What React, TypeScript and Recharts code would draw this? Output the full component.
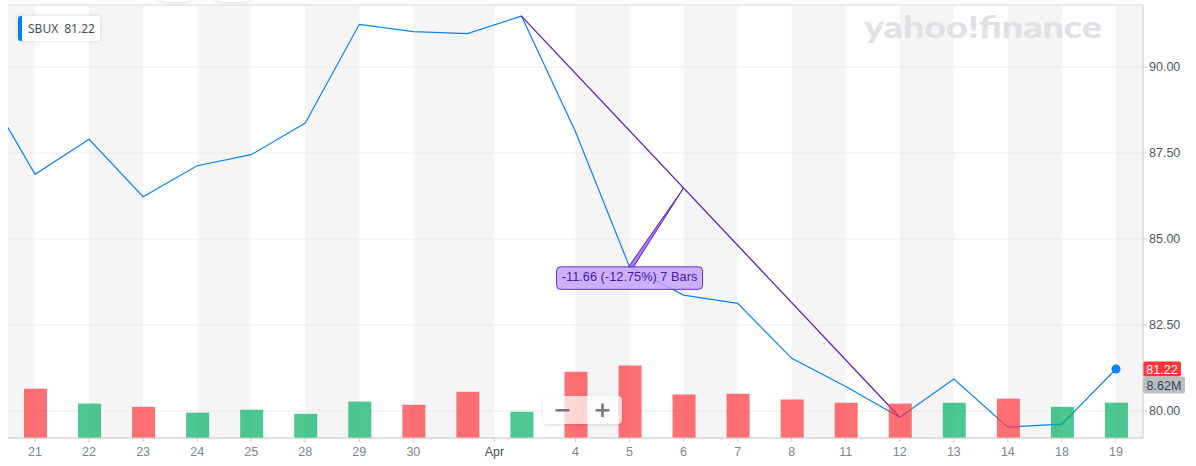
import React from 'react';
import {
  ComposedChart,
  Line,
  Bar,
  Cell,
  XAxis,
  YAxis,
  CartesianGrid,
  ReferenceArea,
  ReferenceLine,
  ReferenceDot,
} from 'recharts';

// ---- data ----
const barIndex = [-1, 0, 1, 2, 3, 4, 5, 6, 7, 8, 9, 10, 11, 12, 13, 14, 15, 16, 17, 18, 19, 20];
const dayLabels = ['Mar 18', 'Mar 21', 'Mar 22', 'Mar 23', 'Mar 24', 'Mar 25', 'Mar 28', 'Mar 29', 'Mar 30', 'Mar 31', 'Apr 1', 'Apr 4', 'Apr 5', 'Apr 6', 'Apr 7', 'Apr 8', 'Apr 11', 'Apr 12', 'Apr 13', 'Apr 14', 'Apr 18', 'Apr 19'];
const closePrices = [89.59, 86.88, 87.9, 86.23, 87.13, 87.45, 88.37, 91.24, 91.03, 90.97, 91.48, 88.12, 84.19, 83.37, 83.13, 81.53, 80.71, 79.82, 80.93, 79.53, 79.62, 81.22];
const volumesM = [null, 12.0, 8.4, 7.6, 6.2, 6.9, 5.9, 8.9, 8.1, 11.3, 6.4, 16.2, 17.7, 10.6, 10.8, 9.4, 8.6, 8.4, 8.6, 9.6, 7.6, 8.62];

const xTickValues = [0, 1, 2, 3, 4, 5, 6, 7, 8.5, 10, 11, 12, 13, 14, 15, 16, 17, 18, 19, 20];
const xTickLabels = ['21', '22', '23', '24', '25', '28', '29', '30', 'Apr', '4', '5', '6', '7', '8', '11', '12', '13', '14', '18', '19'];
const priceTicks = [80, 82.5, 85, 87.5, 90];
const xDomain = [-0.5, 20.5];
const priceDomain = [79.215, 91.802];
const volumeDomain = [0, 105.7];

const symbol = 'SBUX';
const lastPriceLabel = '81.22';
const lastVolumeLabel = '8.62M';
const measureFrom = 9;
const measureTo = 16;
const measureAnchor = 11;
const measureTip = 12;
const measureLabel = '-11.66 (-12.75%) 7 Bars';

// ---- derived ----
const data = barIndex.map((i, k) => ({
  i,
  day: dayLabels[k],
  close: closePrices[k],
  vol: volumesM[k],
  up: k > 0 ? closePrices[k] >= closePrices[k - 1] : true,
}));
const priceAt = (i: number) => data.find((d) => d.i === i)!.close;
const stripeBounds = [xDomain[0], ...xTickValues, xDomain[1]];
const stripes: [number, number][] = [];
for (let k = 0; k + 1 < stripeBounds.length; k += 2) stripes.push([stripeBounds[k], stripeBounds[k + 1]]);
const mStartP = priceAt(measureFrom);
const mEndP = priceAt(measureTo);
const tipPrice = mStartP + ((mEndP - mStartP) * (measureTip - measureFrom)) / (measureTo - measureFrom);
const lastIdx = barIndex[barIndex.length - 1];
const lastClose = priceAt(lastIdx);

const AXIS_FONT = "'Liberation Sans', Arial, Helvetica, sans-serif";
const BLUE = '#0a84f4';
const PURPLE = '#5b1fb8';

const XTick = (props: any) => {
  const { x, y, payload } = props;
  const idx = xTickValues.indexOf(payload.value);
  const label = xTickLabels[idx] ?? '';
  const isMonth = /[A-Za-z]/.test(label);
  return (
    <text x={x} y={y + 12} textAnchor="middle" fontSize={12.5} fontFamily={AXIS_FONT} fill={isMonth ? '#4a5058' : '#7d858e'}>
      {label}
    </text>
  );
};

const YTick = (props: any) => {
  const { x, y, payload } = props;
  return (
    <text x={x} y={y + 4.5} textAnchor="start" fontSize={12.5} fontFamily={AXIS_FONT} fill="#4f565e">
      {Number(payload.value).toFixed(2)}
    </text>
  );
};

const PriceTag = (props: any) => {
  const { cx, cy } = props;
  const left = cx + 27;
  return (
    <g>
      <rect x={left} y={cy - 7.5} width={38} height={15} rx={2} fill="#ff333a" />
      <text x={left + 19} y={cy + 4.5} textAnchor="middle" fontSize={12.5} fontFamily={AXIS_FONT} fill="#ffffff">
        {lastPriceLabel}
      </text>
      <rect x={left} y={cy + 7.5} width={42} height={17} rx={2} fill="#b9bdc4" />
      <text x={left + 21} y={cy + 20.5} textAnchor="middle" fontSize={12.5} fontFamily={AXIS_FONT} fill="#3c424a">
        {lastVolumeLabel}
      </text>
    </g>
  );
};

const MeasureBox = (props: any) => {
  const { cx, cy } = props;
  return (
    <g>
      <rect x={cx - 73} y={cy} width={146} height={22.5} rx={4} fill="#c4a2fb" fillOpacity={0.85} stroke="#6a2ed0" strokeWidth={1} />
      <text x={cx} y={cy + 14.5} textAnchor="middle" fontSize={12.8} fontFamily={AXIS_FONT} fill="#4b1a9e">
        {measureLabel}
      </text>
    </g>
  );
};

const Wedge = (props: any) => {
  const { x1, y1, x2, y2 } = props;
  if ([x1, y1, x2, y2].some((v) => typeof v !== 'number' || isNaN(v))) return <g />;
  return (
    <polygon
      points={`${x1 - 1},${y1} ${x1 + 4},${y1} ${x2},${y2}`}
      fill="#a97cf2"
      stroke={PURPLE}
      strokeWidth={1}
      strokeLinejoin="round"
    />
  );
};

const renderDot = (p: any) => {
  if (p.payload && p.payload.i === lastIdx) {
    return <circle key={`dot-${p.index}`} cx={p.cx} cy={p.cy} r={4.5} fill={BLUE} />;
  }
  return <g key={`dot-${p.index}`} />;
};

export default function App() {
  return (
    <div style={{ position: 'absolute', left: 0, top: 0, width: 1196, height: 466, background: '#fff', overflow: 'hidden' }}>
      <ComposedChart width={1196} height={466} data={data} margin={{ top: 5, right: 0, bottom: 0, left: 8 }}>
        {stripes.map(([a, b], k) => (
          <ReferenceArea key={`s${k}`} yAxisId="p" x1={a} x2={b} fill="#f5f5f5" fillOpacity={1} stroke="none" zIndex={-200} />
        ))}
        <CartesianGrid yAxisId="p" vertical={false} stroke="#ebebeb" zIndex={-100} />
        <ReferenceLine yAxisId="p" y={priceDomain[1]} stroke="#e0e0e0" strokeWidth={1} />
        <XAxis
          dataKey="i"
          type="number"
          domain={xDomain}
          allowDataOverflow
          ticks={xTickValues}
          interval={0}
          height={28}
          tickSize={4}
          tickMargin={2}
          axisLine={{ stroke: '#cccccc' }}
          tickLine={{ stroke: '#cccccc' }}
          tick={<XTick />}
        />
        <YAxis
          yAxisId="p"
          orientation="right"
          domain={priceDomain}
          allowDataOverflow
          ticks={priceTicks}
          width={53}
          tickSize={4}
          tickMargin={2}
          axisLine={{ stroke: '#cccccc' }}
          tickLine={{ stroke: '#cccccc' }}
          tick={<YTick />}
        />
        <YAxis yAxisId="vol" hide domain={volumeDomain} allowDataOverflow />
        <Line
          yAxisId="p"
          dataKey="close"
          type="linear"
          stroke={BLUE}
          strokeWidth={1.2}
          dot={renderDot}
          activeDot={false}
          isAnimationActive={false}
          zIndex={100}
        />
        <ReferenceLine
          yAxisId="p"
          segment={[{ x: measureFrom, y: mStartP }, { x: measureTo, y: mEndP }]}
          stroke={PURPLE}
          strokeWidth={1.3}
          zIndex={150}
        />
        <ReferenceLine
          yAxisId="p"
          segment={[{ x: measureAnchor, y: priceAt(measureAnchor) }, { x: measureTip, y: tipPrice }]}
          shape={Wedge}
          zIndex={150}
        />
        <Bar yAxisId="vol" dataKey="vol" barSize={23} isAnimationActive={false} zIndex={300}>
          {data.map((d, k) => (
            <Cell key={`c${k}`} fill={d.up ? '#00b061' : '#ff333a'} fillOpacity={0.7} />
          ))}
        </Bar>
        <ReferenceDot yAxisId="p" x={measureAnchor} y={priceAt(measureAnchor)} shape={MeasureBox} zIndex={400} />
        <ReferenceDot yAxisId="p" x={lastIdx} y={lastClose} shape={PriceTag} zIndex={400} />
      </ComposedChart>

      {/* cut-off toolbar pills at top */}
      <div style={{ position: 'absolute', left: 157, top: -18, width: 36, height: 20, borderRadius: 8, background: '#fff', boxShadow: '0 1px 3px rgba(0,0,0,0.12)' }} />
      <div style={{ position: 'absolute', left: 213, top: -18, width: 40, height: 20, borderRadius: 8, background: '#fff', boxShadow: '0 1px 3px rgba(0,0,0,0.12)' }} />

      {/* legend */}
      <div
        style={{
          position: 'absolute',
          left: 18,
          top: 16,
          height: 25,
          width: 82,
          boxSizing: 'border-box',
          background: '#fff',
          borderLeft: '4px solid #0081f2',
          borderRadius: 3,
          boxShadow: '0 0 4px rgba(0,0,0,0.15)',
          fontFamily: "'Noto Sans', 'Open Sans', sans-serif",
          fontSize: 12,
          color: '#464e56',
          display: 'flex',
          alignItems: 'center',
          paddingLeft: 6,
          whiteSpace: 'nowrap',
        }}
      >
        <span>{symbol}</span>
        <span style={{ marginLeft: 6 }}>{lastPriceLabel}</span>
      </div>

      {/* watermark */}
      <svg style={{ position: 'absolute', left: 0, top: 0, pointerEvents: 'none' }} width={1196} height={60}>
        <text x={864} y={37.5} fontFamily="Lato, 'Open Sans', sans-serif" fontWeight={900} fontSize={31} fill="#e0e1e4" textLength={238} lengthAdjust="spacingAndGlyphs">
          yahoo!finance
        </text>
      </svg>

      {/* zoom control */}
      <div
        style={{
          position: 'absolute',
          left: 543,
          top: 396,
          width: 79,
          height: 28,
          borderRadius: 4,
          background: 'rgba(255,255,255,0.72)',
          boxShadow: '0 1px 3px rgba(0,0,0,0.15)',
          fontFamily: "'DejaVu Sans', sans-serif",
          fontWeight: 700,
          color: '#7a7a7a',
        }}
      >
        <div style={{ position: 'absolute', left: 0, top: 0, width: 39, height: 28, lineHeight: '28px', textAlign: 'center', fontSize: 22 }}>−</div>
        <div style={{ position: 'absolute', left: 39, top: 5, width: 1, height: 18, background: '#d6d6d6' }} />
        <div style={{ position: 'absolute', left: 40, top: 0, width: 39, height: 28, lineHeight: '28px', textAlign: 'center', fontSize: 22 }}>+</div>
      </div>
    </div>
  );
}
